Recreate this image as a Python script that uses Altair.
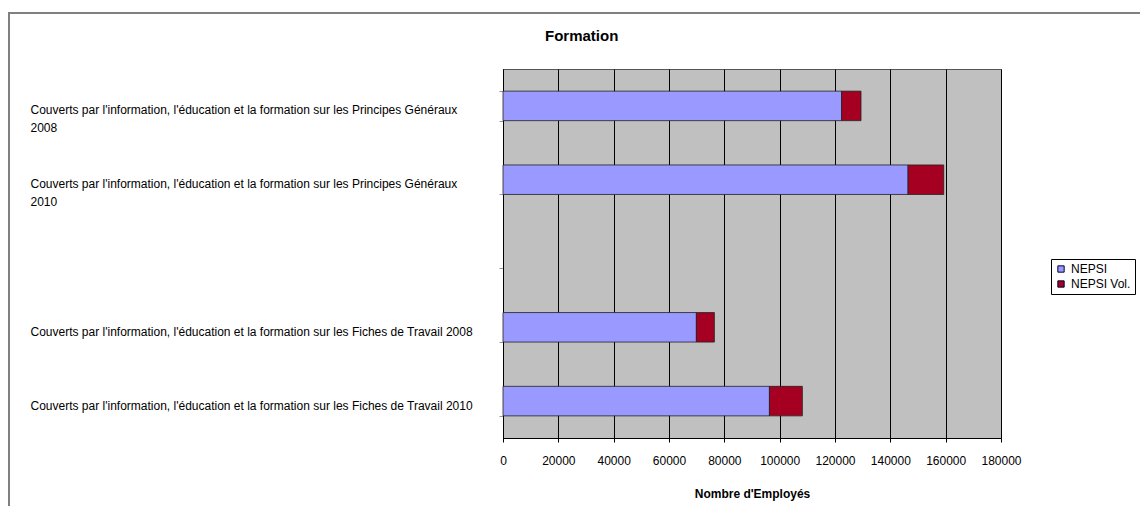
import altair as alt
import pandas as pd

categories = [
    "Couverts par l'information, l'éducation et la formation sur les Principes Généraux|2008",
    "Couverts par l'information, l'éducation et la formation sur les Principes Généraux|2010",
    " ",
    "Couverts par l'information, l'éducation et la formation sur les Fiches de Travail 2008",
    "Couverts par l'information, l'éducation et la formation sur les Fiches de Travail 2010",
]
nepsi = [122400, 146400, None, 69900, 96300]
nepsi_vol = [7000, 12900, None, 6500, 11900]
series = ["NEPSI", "NEPSI Vol."]
colors = ["#9999FF", "#A50021"]
x_ticks = [0, 20000, 40000, 60000, 80000, 100000, 120000, 140000, 160000, 180000]

rows = []
for c, a, b in zip(categories, nepsi, nepsi_vol):
    if a is None:
        continue
    rows.append({"cat": c, "serie": series[0], "val": a, "ord": 0})
    rows.append({"cat": c, "serie": series[1], "val": b, "ord": 1})
df = pd.DataFrame(rows)

FONT = "Liberation Sans"
W, H = 498, 369

bars = alt.Chart(df).mark_bar(stroke="#222222", strokeWidth=0.8).encode(
    y=alt.Y("cat:N", sort=None,
            scale=alt.Scale(domain=categories, paddingInner=0.6, paddingOuter=0.3),
            axis=alt.Axis(title=None, labelAlign="left", labelPadding=469,
                          labelLimit=700, labelFontSize=12, labelFont=FONT,
                          labelColor="#000000", labelBaseline="top", labelOffset=-1,
                          labelLineHeight=18,
                          labelExpr="split(datum.label, '|')",
                          tickBand="extent", tickSize=4, tickColor="#999999",
                          domainColor="#000000", grid=False)),
    x=alt.X("val:Q", stack="zero",
            scale=alt.Scale(domain=[0, 180000], nice=False),
            axis=alt.Axis(title="Nombre d'Employés", values=x_ticks, format="d",
                          labelFlush=False, labelFontSize=12, labelFont=FONT,
                          labelColor="#000000", labelPadding=13,
                          titleFont=FONT, titleFontSize=12, titleFontWeight="bold",
                          titleColor="#000000", titlePadding=22,
                          tickSize=4, tickColor="#000000", domainColor="#000000",
                          grid=True, gridColor="#000000", gridOpacity=1, gridWidth=1)),
    color=alt.Color("serie:N", scale=alt.Scale(domain=series, range=colors),
                    legend=alt.Legend(title=None, orient="none", legendX=548, legendY=190,
                                      symbolType="square", symbolSize=40,
                                      symbolStrokeColor="#000033", symbolStrokeWidth=1,
                                      symbolOffset=0, labelOffset=4,
                                      labelFont=FONT, labelFontSize=12, labelColor="#000000",
                                      strokeColor="#000000", padding=4, rowPadding=3,
                                      fillColor="#FFFFFF")),
    order=alt.Order("ord:Q"),
)

left_border = alt.Chart(df).mark_rule(color="#808080", strokeWidth=2).encode(
    x=alt.value(-494), y=alt.value(-56), y2=alt.value(H + 70)
)
top_border = alt.Chart(df).mark_rule(color="#808080", strokeWidth=2).encode(
    x=alt.value(-495), x2=alt.value(W + 142), y=alt.value(-56)
)

chart = alt.layer(bars, left_border, top_border).properties(
    width=W, height=H,
    background="#FFFFFF",
    title=alt.TitleParams("Formation", anchor="start", frame="group", dx=42, offset=-32,
                          font=FONT, fontSize=15, fontWeight="bold", color="#000000"),
    autosize=alt.AutoSizeParams(type="none"),
    padding={"left": 495, "top": 61, "right": 139, "bottom": 68},
).configure_view(
    fill="#C0C0C0", stroke="#555555", strokeWidth=1
)

chart.save("out.html", embed_options={"renderer": "svg", "actions": False})
